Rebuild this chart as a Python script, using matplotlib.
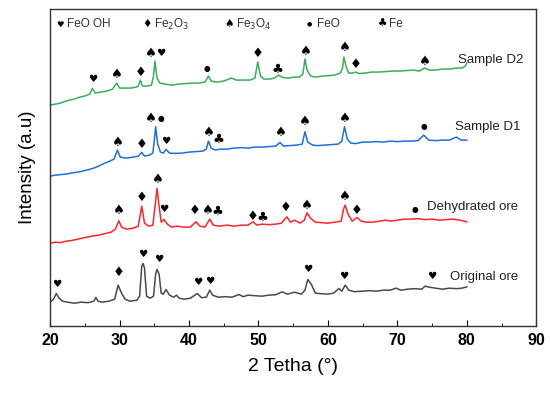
import numpy as np
import matplotlib
matplotlib.use("Agg")
import matplotlib.pyplot as plt

plt.rcParams['font.family'] = ['Liberation Sans', 'DejaVu Sans']

# XRD patterns: (2theta, intensity in arbitrary units)
orig_ore = [(20.0,24),(20.5,27),(20.9,32.7),(21.3,28),(21.8,25),(22.5,24),(23.5,23),(24.5,24),(25.5,23.5),
            (26.3,25),(26.6,28.7),(26.9,25),(27.5,24),(28.5,25),(29.3,27),(29.8,41),(30.3,33),(30.8,27),
            (31.5,25),(32.5,26),(32.9,30),(33.2,60),(33.4,62.7),(33.6,58),(33.9,30),(34.4,28),(34.9,30),
            (35.2,52),(35.4,56.7),(35.7,52),(36.0,33),(36.3,32),(36.7,36.7),(37.2,31),(37.8,29),(38.2,31),
            (38.6,28),(39.3,27),(40.2,28),(41.2,32.7),(41.8,28.5),(42.5,29),(43.0,36),(43.4,31),(44.2,29),
            (45.2,29.5),(46.2,29),(47.2,31.7),(47.8,29.5),(48.5,31),(49.5,30.5),(50.5,30),(51.5,31),
            (52.5,31.5),(53.4,34.3),(54.2,32),(55.2,34),(56.2,32),(56.7,36),(57.1,46.7),(57.6,42),(58.2,33),
            (59.0,32.5),(60.0,32),(60.8,33),(61.6,37.7),(62.0,35),(62.5,41),(63.0,36),(63.8,34.5),(65.0,35),
            (66.0,35.5),(67.0,35),(68.0,36),(69.0,36),(69.8,38),(70.5,36),(71.5,37),(72.5,37.5),(73.5,37),
            (74.0,40),(74.6,39),(75.5,38),(76.5,37),(77.5,38),(78.5,37.5),(79.3,38),(80.0,39.3)]

dehyd_ore = [(20.0,83),(20.8,84),(21.5,83.5),(22.3,85),(23.0,85.5),(24.0,87),(25.0,88.5),(26.0,90),(27.0,91),
             (28.0,92.7),(28.8,94),(29.4,97),(29.9,105.3),(30.3,99),(31.0,97),(32.0,98),(32.7,100),(33.2,120),
             (33.6,103),(34.2,100),(34.8,101),(35.2,125),(35.4,137.7),(35.7,120),(36.0,104),(36.4,106.7),
             (36.9,102),(37.5,99),(38.3,100),(39.2,99),(40.2,99),(41.0,104.3),(41.6,100),(42.3,99),(43.0,107),
             (43.5,101),(44.3,100),(45.5,101),(46.5,100),(47.5,101),(48.5,101),(49.2,104.3),(49.8,101),
             (50.5,102),(51.5,101.5),(52.5,102),(53.3,103),(54.1,109.3),(54.6,104),(55.2,106),(56.0,103),
             (56.6,106),(57.0,113.3),(57.5,108),(58.2,104),(59.0,103.5),(60.0,103),(61.0,104),(61.9,105),
             (62.3,118),(62.5,121),(62.9,112),(63.5,105),(64.2,108.7),(64.8,105),(65.5,104),(66.5,104),
             (67.5,105),(68.3,106),(69.0,105),(70.0,106),(71.0,107),(72.0,107),(73.0,107.5),(74.0,106.5),
             (75.0,107),(76.0,106),(77.0,106.5),(78.0,107),(79.0,106),(79.6,105),(80.0,104.3)]

sample_d1 = [(20.0,150),(20.8,151),(21.5,151.5),(22.3,152),(23.0,153),(24.0,154),(25.3,156),(26.3,158),
             (27.0,160),(27.8,162.7),(28.6,165),(29.2,167),(29.7,176),(30.1,169),(31.0,168),(32.0,169),
             (32.7,170),(33.2,173.7),(33.6,170),(34.3,171),(34.8,173),(35.0,185),(35.2,199.3),(35.5,182),
             (35.9,174),(36.3,173),(36.7,176.7),(37.2,173),(38.0,172.7),(39.0,173),(40.0,174),(41.0,174.5),
             (42.0,175),(42.5,177),(42.8,185),(43.2,178),(43.8,176),(44.5,177),(45.5,177),(46.5,178),
             (47.5,178.5),(48.5,178),(49.5,179),(50.5,179),(51.5,179.5),(52.5,180),(53.1,183.7),(53.6,180),
             (54.5,180.5),(55.5,181),(56.3,182),(56.7,194.3),(57.1,184),(57.8,181),(58.5,180.5),(59.5,181),
             (60.5,181.5),(61.5,182),(62.0,185),(62.4,199.3),(62.8,187),(63.3,183),(64.0,182.5),(65.0,184),
             (66.0,184),(67.0,184.5),(68.0,184),(69.0,185),(70.0,184.5),(71.0,185),(72.0,185),(73.0,185.5),
             (73.8,191),(74.5,186),(75.5,185.5),(76.5,186),(77.5,186),(78.5,189),(79.2,186),(80.0,186)]

sample_d2 = [(20.0,221),(20.8,222),(21.5,223),(22.3,225),(22.8,226),(23.5,227),(24.3,229),(25.0,230),
             (25.7,232),(26.1,237.7),(26.5,233),(27.3,234),(28.2,235),(29.0,237),(29.6,243),(30.0,238),
             (30.8,238),(31.6,238),(32.4,239),(32.7,240),(33.0,246),(33.3,240),(34.0,240),(34.6,241),
             (34.9,250),(35.1,265),(35.4,248),(35.8,243),(36.5,242),(37.5,241),(38.5,242),(39.5,242.5),
             (40.5,243),(41.5,243),(42.3,244),(42.8,250),(43.2,245),(44.0,244),(45.0,245),(46.1,248),
             (46.8,246),(47.8,246),(48.8,246),(49.5,248),(49.9,264),(50.3,250),(50.8,247),(51.6,247),
             (52.3,248),(52.9,251),(53.5,248.5),(54.3,248),(55.2,249),(55.9,249),(56.4,252),(56.7,267),
             (57.0,256),(57.5,250),(58.3,249),(59.2,250),(60.2,250.5),(61.0,251),(61.8,253),(62.1,258),
             (62.3,269),(62.6,260),(63.0,253),(63.5,253),(64.0,254),(64.5,252.5),(65.3,253),(66.3,254),
             (67.3,254),(68.3,254.5),(69.3,255),(70.3,255),(71.3,255.5),(72.3,256),(73.2,255),(73.9,258),
             (74.6,256),(75.5,256),(76.5,257),(77.5,257),(78.5,258),(79.3,258),(79.8,260),(80.0,263)]

# phase marks above peaks: (2theta, height, glyphs)
orig_marks = [(20.9,41.7,'♥'),(29.9,53.3,'♦'),(33.4,71.7,'♥'),(35.6,66.7,'♥'),(41.2,44.3,'♥'),
              (43.0,45.3,'♥'),(57.1,56.7,'♥'),(62.3,50,'♥'),(74.9,50,'♥')]
dehyd_marks = [(29.9,115.3,'♠'),(33.2,128.7,'♦'),(35.5,146.7,'♠'),(36.4,116.7,'♥'),(40.8,115.3,'♦'),
               (43.4,115.3,'♠♣'),(49.9,109.3,'♦♣'),(53.9,118.7,'♦'),
               (57.0,121,'♠'),(62.4,129.3,'♠'),(64.2,115.3,'♦'),(72.5,117,'●')]
d1_marks = [(29.7,183.3,'♠'),(33.2,182,'♦'),(35.2,207.7,'♠●'),(36.7,185.3,'♥'),
            (42.8,193.7,'♠'),(44.3,187,'♣'),(53.2,193.7,'♠'),(56.7,204.3,'♠'),(62.4,207.7,'♠'),
            (73.8,200,'●')]
d2_marks = [(26.1,246.7,'♥'),(29.6,252,'♠'),(33.0,254,'♦'),(35.2,273,'♠♥'),
            (42.6,258,'●'),(49.9,273,'♦'),(52.8,257,'♣'),(56.8,275,'♠'),(62.4,279,'♠'),
            (64.0,262,'♦'),(73.9,265,'♠')]

series_names = ['Original ore', 'Dehydrated ore', 'Sample D1', 'Sample D2']
label_pos = [(77.6,49.3), (74.3,118.7), (78.3,199.3), (78.7,266)]
colors = ['#4a4a4a', '#ff2525', '#1f6fe0', '#38b05a']

legend_glyphs = ['♥', '♦', '♠', '●', '♣']
legend_names = ['FeO OH', r'Fe$_2$O$_3$', r'Fe$_3$O$_4$', 'FeO', 'Fe']
legend_x = [21.4, 33.9, 45.8, 57.4, 67.8]

# glyph sizes so the DejaVu symbols come out about equal
glyph_size = {'♥': 7.5, '♦': 9.5, '♠': 9.5, '♣': 9.5, '●': 5.5}


def put_glyphs(ax, x, y, glyphs, scale=1.0):
    # one or more glyphs side by side, centred on x
    step = 1.5 * scale
    start = x - step * (len(glyphs) - 1) / 2
    for i, g in enumerate(glyphs):
        ax.text(start + i * step, y, g, fontsize=glyph_size[g] * scale, ha='center', va='center',
                color='black', family=['DejaVu Sans'])


fig = plt.figure()
fig.set_size_inches(5.5, 3.93)
ax = fig.add_axes([0.091, 0.170, 0.884, 0.807])

patterns = [orig_ore, dehyd_ore, sample_d1, sample_d2]
marks = [orig_marks, dehyd_marks, d1_marks, d2_marks]
for pat, mk, name, pos, c in zip(patterns, marks, series_names, label_pos, colors):
    p = np.array(pat)
    ax.plot(p[:, 0], p[:, 1], color=c, lw=1.1)
    for x, y, g in mk:
        put_glyphs(ax, x, y, g)
    ax.text(pos[0], pos[1], name, fontsize=9.5, ha='left', va='center', color='#222222')

for gx, g, n in zip(legend_x, legend_glyphs, legend_names):
    put_glyphs(ax, gx, 301.7, g, scale=0.8)
    ax.text(gx + 1.0, 301.7, n, fontsize=8.5, ha='left', va='center', color='#333333')

ax.set_xlim(20, 90)
ax.set_ylim(0, 317)
ax.set_xticks(np.arange(20, 91, 10))
ax.set_xticks(np.arange(25, 90, 10), minor=True)
ax.tick_params(axis='x', which='major', direction='in', length=4, labelsize=11.5, pad=5)
ax.tick_params(axis='x', which='minor', direction='in', length=2.5)
for lab in ax.get_xticklabels():
    lab.set_fontweight('bold')
ax.set_yticks([])
for s in ax.spines.values():
    s.set_color('#333333')
    s.set_linewidth(1.0)

ax.set_xlabel('2 Tetha (°)', fontsize=14, labelpad=7)
ax.set_ylabel('Intensity (a.u)', fontsize=13.5, labelpad=10)

fig.savefig('out.png', dpi=100)
